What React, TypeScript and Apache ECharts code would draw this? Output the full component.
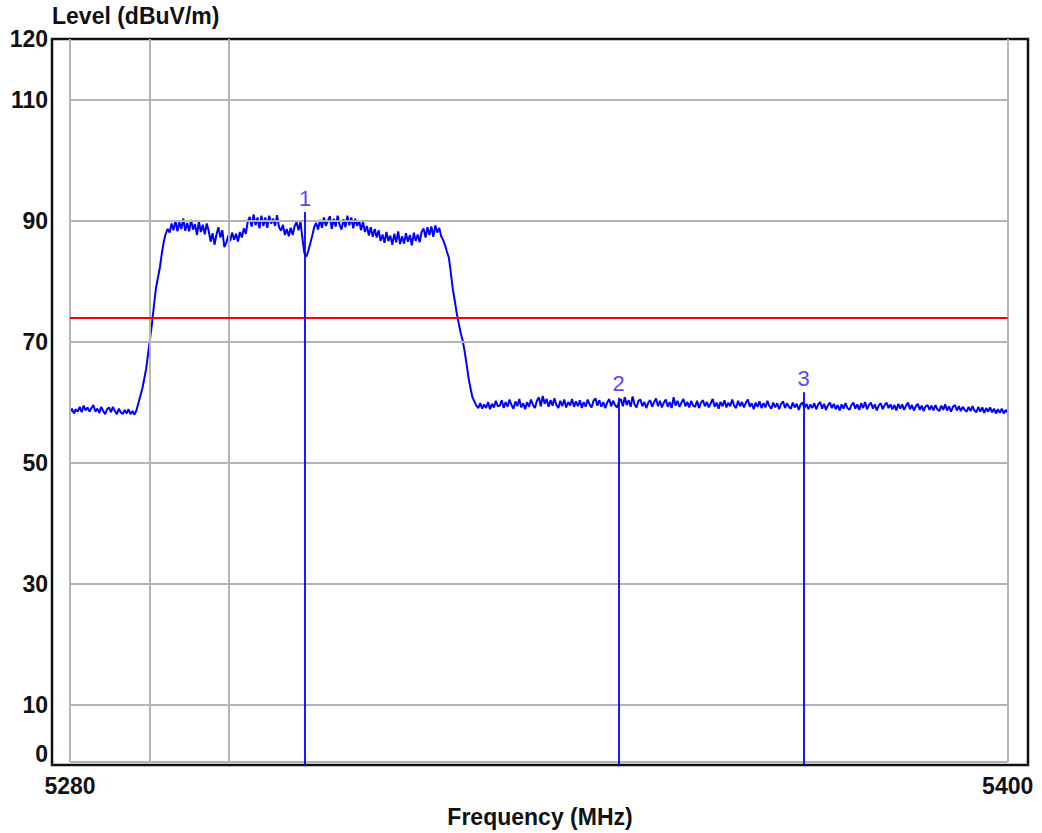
import React, { useEffect, useRef } from "react";
import * as echarts from "echarts";

// Spectrum trace: level (dBuV/m) sampled every 0.25 MHz from 5280 MHz
const freqStart = 5280;
const freqStep = 0.25;
const levelValues = [
  58.3, 58.9, 58.1, 58.8, 58.4, 59.2, 58.3, 59.4, 58.6, 59.1, 58.4, 59.0, 59.5, 58.4, 58.9, 58.2, 59.2, 58.5, 58.0, 58.8,
  59.1, 58.3, 59.2, 58.5, 58.0, 58.9, 58.3, 58.0, 58.7, 58.1, 58.8, 58.0, 58.5, 57.9, 58.6, 59.8, 61.0, 62.2, 63.8, 65.5,
  68.0, 70.5, 73.0, 76.0, 78.8, 80.5, 82.2, 84.5, 86.5, 87.8, 88.6, 88.0, 89.5, 88.4, 90.0, 88.2, 89.7, 88.6, 90.3, 88.3,
  89.6, 88.2, 90.1, 88.5, 89.4, 87.6, 89.8, 88.1, 89.3, 87.7, 89.5, 88.3, 86.5, 87.9, 86.0, 87.7, 88.9, 87.2, 88.4, 85.6,
  86.3, 87.5, 86.6, 88.0, 86.8, 87.8, 86.5, 88.1, 87.2, 88.7, 87.8, 89.8, 90.6, 89.0, 91.0, 89.2, 90.5, 88.7, 90.8, 89.1,
  90.5, 88.8, 90.8, 89.5, 90.3, 89.1, 90.9, 88.9, 88.3, 89.3, 87.6, 88.6, 87.4, 88.8, 87.6, 89.1, 89.7, 88.4, 89.8, 87.0,
  84.6, 84.0, 85.0, 86.2, 87.5, 88.9, 89.6, 88.5, 90.1, 88.8, 90.5, 89.1, 89.9, 90.7, 88.6, 90.3, 89.0, 90.8, 89.3, 88.5,
  90.2, 88.9, 90.8, 89.2, 90.5, 88.7, 90.3, 89.1, 90.0, 88.4, 89.8, 88.1, 89.1, 87.5, 88.9, 87.3, 88.6, 87.2, 88.4, 86.6,
  87.7, 86.3, 88.1, 86.6, 87.5, 86.0, 87.8, 86.4, 88.2, 86.1, 87.4, 86.2, 87.9, 86.5, 87.6, 85.9, 88.0, 86.6, 87.7, 86.4,
  88.1, 88.7, 87.2, 88.9, 87.6, 89.0, 87.3, 89.2, 88.0, 88.8, 87.4, 86.8, 85.9, 84.8, 83.8, 81.2, 78.6, 76.7, 74.6, 73.0,
  71.4, 70.2, 68.4, 66.3, 64.0, 62.3, 60.8, 60.1, 59.4, 59.0, 59.8, 58.9, 59.6, 59.0, 60.0, 58.8, 59.7, 59.1, 60.2, 59.3,
  59.4, 60.3, 59.0, 60.0, 59.2, 60.4, 59.5, 58.9, 60.1, 59.3, 60.5, 59.1, 59.8, 58.8, 60.0, 59.2, 60.4, 59.5, 59.0, 60.2,
  60.8, 59.3, 61.0, 59.7, 60.5, 59.2, 60.3, 59.4, 60.6, 59.5, 59.0, 60.2, 59.3, 60.4, 59.1, 60.0, 59.4, 60.5, 59.2, 60.1,
  59.3, 60.3, 59.0, 60.0, 59.2, 60.4, 59.6, 59.1, 60.2, 60.6, 59.4, 60.3, 59.2, 60.0, 59.0, 59.9, 60.5, 59.3, 60.2, 59.5,
  59.1, 60.0, 60.5, 59.3, 60.8, 59.5, 60.3, 59.2, 60.9, 59.6, 59.1, 60.2, 60.4, 59.3, 60.0, 59.0, 59.9, 60.3, 59.2, 60.0,
  60.6, 59.3, 60.2, 59.1, 59.9, 60.4, 59.2, 60.0, 59.0, 60.8, 59.4, 60.2, 59.2, 59.9, 60.5, 59.3, 60.0, 59.1, 60.2, 59.4,
  59.2, 60.2, 59.0, 59.9, 60.3, 59.3, 60.0, 59.1, 59.8, 60.5, 59.2, 59.9, 58.9, 60.0, 59.3, 60.3, 59.1, 59.9, 59.3, 60.4,
  59.4, 59.0, 60.2, 59.3, 60.0, 59.1, 59.9, 60.4, 59.2, 59.8, 58.8, 59.9, 59.2, 60.1, 59.0, 59.8, 59.1, 60.2, 59.3, 58.9,
  59.9, 59.1, 59.8, 58.8, 59.7, 60.1, 59.0, 59.8, 59.2, 58.9, 59.9, 59.1, 59.7, 58.7, 59.6, 59.9, 59.0, 59.7, 58.8, 59.6,
  59.0, 59.8, 58.8, 59.6, 60.0, 58.9, 59.7, 58.7, 59.5, 59.9, 59.0, 59.7, 58.8, 59.5, 58.6, 59.6, 58.9, 59.8, 59.0, 58.7,
  59.5, 59.9, 58.9, 59.6, 58.7, 59.8, 59.0, 60.0, 58.8, 59.5, 59.9, 58.9, 59.6, 58.6, 59.4, 59.8, 58.8, 59.5, 59.9, 59.0,
  59.6, 58.8, 59.5, 58.6, 59.7, 58.9, 59.6, 58.7, 59.4, 59.9, 58.8, 59.5, 58.6, 59.3, 59.7, 58.7, 59.4, 58.5, 59.3, 59.5,
  58.7, 59.4, 58.6, 59.5, 58.8, 58.5, 59.4, 58.7, 59.6, 58.6, 59.3, 58.4, 59.2, 59.5, 58.6, 59.3, 58.5, 59.2, 58.7, 58.4,
  59.2, 58.5, 59.3, 58.6, 58.3, 59.2, 58.4, 59.1, 58.2, 59.0, 58.4, 59.1, 58.3, 58.9, 58.1, 58.8, 58.2, 58.9, 58.1, 58.7,
  58.3,
];

const xTickValues = [5280, 5400];
const yTickValues = [0, 10, 30, 50, 70, 90, 110, 120];
const hGridValues = [0.5, 10, 30, 50, 70, 90, 110];
const vGridValues = [5280, 5290.2, 5300.3, 5400];
const gridFreqMin = 5280;
const gridFreqMax = 5400;
const gridLevelMin = 0.5;
const gridLevelMax = 120;
const thresholdLevel = 74;
const markerLabels = ["1", "2", "3"];
const markerFreqs = [5310.1, 5350.2, 5373.9];
const markerTops = [91.4, 60.7, 61.6];

const FONT = "'Liberation Sans', Arial, sans-serif";

export default function App() {
  const ref = useRef<HTMLDivElement>(null);

  useEffect(() => {
    if (!ref.current) return;
    const chart = echarts.init(ref.current, null, { renderer: "svg" });

    const traceData = levelValues.map((v, i) => [freqStart + i * freqStep, v]);

    const gridLines: any[] = [];
    hGridValues.forEach((y) =>
      gridLines.push([{ coord: [gridFreqMin, y] }, { coord: [gridFreqMax, y] }])
    );
    vGridValues.forEach((x) =>
      gridLines.push([{ coord: [x, gridLevelMin] }, { coord: [x, gridLevelMax] }])
    );

    const markerLines = markerFreqs.map((f, i) => [
      { coord: [f, 0] },
      { coord: [f, markerTops[i]], label: { formatter: markerLabels[i] } },
    ]);

    chart.setOption({
      animation: false,
      backgroundColor: "#ffffff",
      grid: {
        left: 52,
        top: 39,
        right: 14,
        bottom: 61,
        show: true,
        borderColor: "#111111",
        borderWidth: 2.5,
        backgroundColor: "transparent",
      },
      xAxis: {
        type: "value",
        min: 5277.7,
        max: 5402.6,
        name: "Frequency (MHz)",
        nameLocation: "middle",
        nameGap: 40,
        nameTextStyle: { fontFamily: FONT, fontWeight: "bold", fontSize: 23, color: "#111" },
        axisLine: { show: false },
        axisTick: { show: false },
        splitLine: { show: false },
        axisLabel: {
          customValues: xTickValues,
          formatter: (v: number) => String(v),
          fontFamily: FONT,
          fontWeight: "bold",
          fontSize: 23,
          color: "#111",
          margin: 9,
        },
      },
      yAxis: {
        type: "value",
        min: 0,
        max: 120,
        name: "Level (dBuV/m)",
        nameLocation: "end",
        nameGap: 2,
        nameTextStyle: {
          fontFamily: FONT,
          fontWeight: "bold",
          fontSize: 23,
          color: "#111",
          align: "left",
          verticalAlign: "bottom",
        },
        axisLine: { show: false },
        axisTick: { show: false },
        splitLine: { show: false },
        axisLabel: {
          customValues: yTickValues,
          formatter: (v: number) => String(v),
          fontFamily: FONT,
          fontWeight: "bold",
          fontSize: 23,
          color: "#111",
          margin: 4,
          verticalAlignMinLabel: "bottom",
        },
      },
      series: [
        {
          type: "line",
          data: [],
          silent: true,
          z: 1,
          markLine: {
            silent: true,
            symbol: "none",
            animation: false,
            label: { show: false },
            lineStyle: { color: "#b4b4b4", width: 2, type: "solid" },
            data: gridLines,
          },
        },
        {
          type: "line",
          data: [],
          silent: true,
          z: 2,
          markLine: {
            silent: true,
            symbol: "none",
            animation: false,
            label: { show: false },
            lineStyle: { color: "#ff0000", width: 2, type: "solid" },
            data: [[{ coord: [gridFreqMin, thresholdLevel] }, { coord: [gridFreqMax, thresholdLevel] }]],
          },
        },
        {
          type: "line",
          data: traceData,
          showSymbol: false,
          symbol: "none",
          silent: true,
          z: 3,
          lineStyle: { color: "#0000ff", width: 2 },
        },
        {
          type: "line",
          data: [],
          silent: true,
          z: 4,
          markLine: {
            silent: true,
            symbol: "none",
            animation: false,
            lineStyle: { color: "#0000ff", width: 1.8, type: "solid" },
            label: {
              show: true,
              position: "end",
              distance: 3,
              fontFamily: FONT,
              fontSize: 22,
              color: "#5a46ff",
            },
            data: markerLines,
          },
        },
      ],
    });

    return () => chart.dispose();
  }, []);

  return (
    <div
      ref={ref}
      style={{ position: "fixed", left: 0, top: 0, width: 1042, height: 833, background: "#fff" }}
    />
  );
}
